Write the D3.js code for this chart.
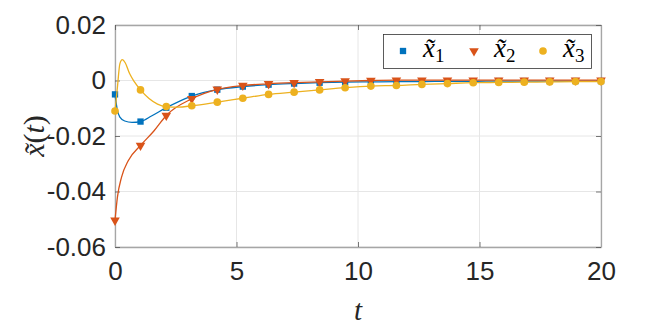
<!DOCTYPE html>
<html>
<head>
<meta charset="utf-8">
<script src="https://cdn.jsdelivr.net/npm/d3@7"></script>
<style>
  body { margin: 0; background: #fff; }
  svg { display: block; }
</style>
</head>
<body>
<div id="chart"></div>
<script>
// sample times of the markers
var tMarks = [0, 1.05, 2.11, 3.16, 4.21, 5.26, 6.32, 7.37, 8.42, 9.47, 10.53,
              11.58, 12.63, 13.68, 14.74, 15.79, 16.84, 17.89, 18.95, 20];

var x1Marks = [-0.005, -0.0148, -0.0098, -0.0056, -0.0033, -0.0022, -0.0015, -0.0011, -0.0008, -0.0006,
               -0.0005, -0.0004, -0.0004, -0.0003, -0.0003, -0.0002, -0.0002, -0.0002, -0.0002, -0.0002];
var x2Marks = [-0.0504, -0.0234, -0.0126, -0.0066, -0.0032, -0.0018, -0.0012, -0.0008, -0.0005, -0.0002,
               0, 0.0001, 0.0001, 0.0001, 0.0001, 0.0001, 0.0001, 0.0001, 0.0001, 0.0001];
var x3Marks = [-0.011, -0.0034, -0.0094, -0.0091, -0.0078, -0.0064, -0.005, -0.0042, -0.0034, -0.0026,
               -0.002, -0.0018, -0.0014, -0.0011, -0.0008, -0.0007, -0.0006, -0.0005, -0.0004, -0.0004];

// extra points (start transient)
var x1ExtraT = [0.1, 0.2, 0.4, 0.7, 1.5];
var x1Extra  = [-0.0108, -0.0132, -0.0146, -0.0151, -0.0128];
var x2ExtraT = [0.1, 0.27, 0.55, 1.6];
var x2Extra  = [-0.042, -0.0348, -0.0288, -0.0182];
var x3ExtraT = [0.1, 0.2, 0.3, 0.42, 0.6, 0.8, 1.4, 1.75, 2.6];
var x3Extra  = [-0.0024, 0.006, 0.0075, 0.0064, 0.0025, -0.0005, -0.0065, -0.0085, -0.0096];

var xTicks = [0, 5, 10, 15, 20];
var yTicks = [0.02, 0, -0.02, -0.04, -0.06];

function draw_chart() {
  var width = 664, height = 332;
  var mLeft = 115, mRight = 601, mTop = 25, mBottom = 247;

  var svg = d3.select("#chart").append("svg")
      .attr("width", width)
      .attr("height", height);

  var x = d3.scaleLinear().domain([0, 20]).range([mLeft, mRight]);
  var y = d3.scaleLinear().domain([-0.06, 0.02]).range([mBottom, mTop]);

  var axisColor = "#a6a6a6";

  // grid
  svg.selectAll("line.gx").data(xTicks).enter().append("line")
      .attr("x1", function(d) { return x(d); }).attr("x2", function(d) { return x(d); })
      .attr("y1", mTop).attr("y2", mBottom)
      .attr("stroke", "#e6e6e6").attr("stroke-width", 1);
  svg.selectAll("line.gy").data(yTicks).enter().append("line")
      .attr("x1", mLeft).attr("x2", mRight)
      .attr("y1", function(d) { return y(d); }).attr("y2", function(d) { return y(d); })
      .attr("stroke", "#e6e6e6").attr("stroke-width", 1);

  // axes (ticks inside)
  var fmtY = function(d) { return d === 0 ? "0" : d3.format(".2f")(d).replace("\u2212", "-"); };

  var gx = svg.append("g").attr("transform", "translate(0," + mBottom + ")")
      .call(d3.axisBottom(x).tickValues(xTicks).tickSizeInner(-5).tickSizeOuter(0).tickPadding(15));
  var gy = svg.append("g").attr("transform", "translate(" + mLeft + ",0)")
      .call(d3.axisLeft(y).tickValues(yTicks).tickFormat(fmtY).tickSizeInner(-5).tickSizeOuter(0).tickPadding(9));
  var gxt = svg.append("g").attr("transform", "translate(0," + mTop + ")")
      .call(d3.axisTop(x).tickValues(xTicks).tickFormat("").tickSizeInner(-5).tickSizeOuter(0));
  var gyr = svg.append("g").attr("transform", "translate(" + mRight + ",0)")
      .call(d3.axisRight(y).tickValues(yTicks).tickFormat("").tickSizeInner(-5).tickSizeOuter(0));

  [gx, gy, gxt, gyr].forEach(function(g) {
    g.selectAll("path").attr("stroke", axisColor).attr("stroke-width", 1.3);
    g.selectAll("line").attr("stroke", "#555").attr("stroke-width", 0.8);
    g.selectAll("text")
      .attr("fill", "#262626")
      .style("font-family", "'Liberation Sans', Arial, sans-serif")
      .style("font-size", "26px");
  });
  gx.selectAll("text").attr("dy", "0.71em");

  // series
  function buildLine(ts, vs, et, ev) {
    var pts = ts.map(function(t, i) { return [t, vs[i]]; })
        .concat(et.map(function(t, i) { return [t, ev[i]]; }));
    pts.sort(function(a, b) { return a[0] - b[0]; });
    return pts;
  }

  var series = [
    {name: "1", color: "#0072BD", marks: x1Marks, line: buildLine(tMarks, x1Marks, x1ExtraT, x1Extra), sym: d3.symbolSquare, size: 40},
    {name: "2", color: "#D95319", marks: x2Marks, line: buildLine(tMarks, x2Marks, x2ExtraT, x2Extra), sym: d3.symbolTriangle, size: 40, flip: true},
    {name: "3", color: "#EDB120", marks: x3Marks, line: buildLine(tMarks, x3Marks, x3ExtraT, x3Extra), sym: d3.symbolCircle, size: 46}
  ];

  var line = d3.line()
      .x(function(d) { return x(d[0]); })
      .y(function(d) { return y(d[1]); })
      .curve(d3.curveMonotoneX);

  series.forEach(function(s) {
    svg.append("path")
      .datum(s.line)
      .attr("d", line)
      .attr("fill", "none")
      .attr("stroke", s.color)
      .attr("stroke-width", 1.3);

    svg.selectAll("path.m" + s.name).data(s.marks).enter().append("path")
      .attr("class", "m" + s.name)
      .attr("d", d3.symbol().type(s.sym).size(s.size))
      .attr("transform", function(d, i) {
        return "translate(" + x(tMarks[i]) + "," + y(d) + ")" + (s.flip ? " rotate(180)" : "");
      })
      .attr("fill", s.color);
  });

  // legend
  var lg = svg.append("g");
  lg.append("rect")
      .attr("x", 383.5).attr("y", 34.5).attr("width", 208).attr("height", 34)
      .attr("fill", "#fff").attr("stroke", "#333").attr("stroke-width", 0.8);

  var legX = [403, 474, 543];
  series.forEach(function(s, i) {
    lg.append("path")
      .attr("d", d3.symbol().type(s.sym).size(s.size))
      .attr("transform", "translate(" + legX[i] + ",51)" + (s.flip ? " rotate(180)" : ""))
      .attr("fill", s.color);
    var t = lg.append("text")
      .attr("x", legX[i] + 20).attr("y", 57)
      .style("font-family", "'Liberation Serif', 'Times New Roman', serif")
      .style("font-size", "27px")
      .attr("fill", "#000");
    t.append("tspan").style("font-style", "italic").text("x\u0303");
    t.append("tspan").attr("dy", 5).style("font-size", "19px").text(s.name);
  });

  // axis labels
  svg.append("text")
      .attr("x", x(10)).attr("y", 320)
      .attr("text-anchor", "middle")
      .style("font-family", "'Liberation Serif', 'Times New Roman', serif")
      .style("font-style", "italic")
      .style("font-size", "29px")
      .attr("fill", "#262626")
      .text("t");

  var yl = svg.append("text")
      .attr("transform", "translate(44," + ((mTop + mBottom) / 2) + ") rotate(-90)")
      .attr("text-anchor", "middle")
      .style("font-family", "'Liberation Serif', 'Times New Roman', serif")
      .style("font-size", "30px")
      .attr("fill", "#262626");
  yl.append("tspan").style("font-style", "italic").text("x\u0303");
  yl.append("tspan").text("(");
  yl.append("tspan").style("font-style", "italic").text("t");
  yl.append("tspan").text(")");
}

draw_chart();
</script>
</body>
</html>
